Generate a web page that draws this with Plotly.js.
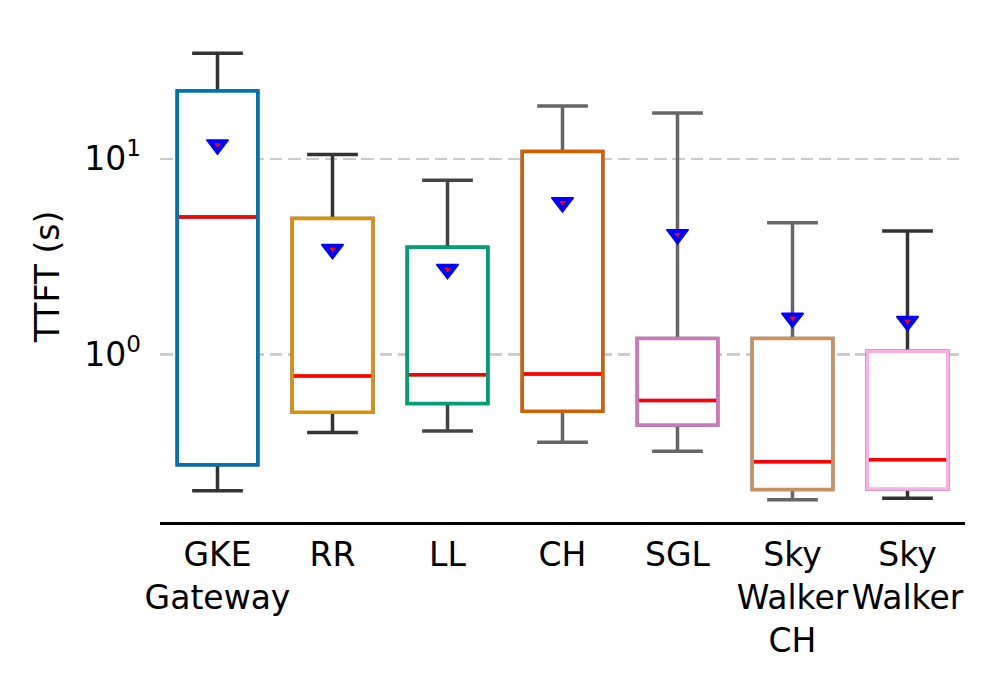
<!DOCTYPE html>
<html>
<head>
<meta charset="utf-8">
<script src="https://cdn.plot.ly/plotly-3.0.1.min.js"></script>
<style>html,body{margin:0;padding:0;background:#fff;}#chart{width:997px;height:681px;}</style>
</head>
<body>
<div id="chart"></div>
<script>
// ---- data ----
const categories = ["GKE<br>Gateway", "RR", "LL", "CH", "SGL", "Sky<br>Walker<br>CH", "Sky<br>Walker"];
const lowerWhisker = [0.202, 0.401, 0.408, 0.357, 0.321, 0.182, 0.185];
const q1Values     = [0.274, 0.508, 0.564, 0.515, 0.438, 0.205, 0.206];
const medianValues = [5.04, 0.779, 0.789, 0.798, 0.584, 0.284, 0.291];
const q3Values     = [22.2, 4.96, 3.53, 10.9, 1.21, 1.21, 1.04];
const upperWhisker = [34.5, 10.5, 7.76, 18.6, 17.1, 4.72, 4.28];
const meanValues   = [11.8, 3.45, 2.73, 5.98, 4.11, 1.54, 1.48];
const yTickVals  = [1, 10];
const yTickText  = ["10<sup>0</sup>", "10<sup>1</sup>"];

// ---- styles ----
const boxColors = ["#0173b2", "#de8f05", "#029e73", "#d55e00", "#cc78bc", "#ca9161", "#fbafe4"];
const whiskerColors = ["#333333", "#333333", "#444444", "#666666", "#666666", "#666666", "#333333"];
const BOX_W = 0.7;
const LW = 3.5;

const positions = categories.map((_, i) => i);
const traces = [];

// whiskers (drawn as full boxes underneath, the coloured boxes cover their bodies)
categories.forEach((c, i) => {
  traces.push({
    type: "box", x: [i],
    q1: [q1Values[i]], median: [medianValues[i]], q3: [q3Values[i]],
    lowerfence: [lowerWhisker[i]], upperfence: [upperWhisker[i]],
    width: BOX_W, whiskerwidth: 0.63,
    line: {color: whiskerColors[i], width: LW},
    fillcolor: "#ffffff", boxpoints: false, hoverinfo: "skip", showlegend: false
  });
});
// coloured boxes
categories.forEach((c, i) => {
  traces.push({
    type: "box", x: [i],
    q1: [q1Values[i]], median: [medianValues[i]], q3: [q3Values[i]],
    lowerfence: [q1Values[i]], upperfence: [q3Values[i]],
    width: BOX_W, whiskerwidth: 0,
    line: {color: boxColors[i], width: LW},
    fillcolor: "#ffffff", boxpoints: false, hoverinfo: "skip", showlegend: false
  });
});
// red median lines
categories.forEach((c, i) => {
  traces.push({
    type: "scatter", mode: "lines",
    x: [i - BOX_W / 2 + 0.014, i + BOX_W / 2 - 0.014],
    y: [medianValues[i], medianValues[i]],
    line: {color: "#ff0000", width: LW},
    hoverinfo: "skip", showlegend: false
  });
});
// mean markers
traces.push({
  type: "scatter", mode: "markers", x: positions, y: meanValues,
  marker: {symbol: "triangle-down", size: 19, color: "#0000ff", line: {color: "#0000ff", width: 1.5}},
  hoverinfo: "skip", showlegend: false
});
traces.push({
  type: "scatter", mode: "markers", x: positions, y: meanValues,
  marker: {symbol: "triangle-down", size: 6, color: "#ff0000", line: {width: 0}},
  hoverinfo: "skip", showlegend: false
});

const FONT = "DejaVu Sans, sans-serif";
const layout = {
  width: 997, height: 681,
  margin: {l: 160, r: 32, t: 31, b: 159},
  paper_bgcolor: "#ffffff", plot_bgcolor: "#ffffff",
  font: {family: FONT, size: 33, color: "#000000"},
  showlegend: false,
  boxmode: "overlay",
  xaxis: {
    range: [-0.5, 6.5],
    tickvals: positions, ticktext: categories,
    showgrid: false, zeroline: false,
    showline: true, linecolor: "#000000", linewidth: 2.8,
    ticks: "", ticklen: 0,
    ticklabelstandoff: 2,
    tickfont: {family: FONT, size: 33, color: "#000000"}
  },
  yaxis: {
    type: "log",
    range: [-0.854, 1.652],
    tickvals: yTickVals, ticktext: yTickText,
    showgrid: true, gridcolor: "#cccccc", gridwidth: 2.5, griddash: "12.5px,5.8px",
    zeroline: false, showline: false, ticks: "",
    ticklabelstandoff: 18,
    tickfont: {family: FONT, size: 33, color: "#000000"},
    title: {text: "TTFT (s)", font: {family: FONT, size: 33, color: "#000000"}, standoff: 14}
  }
};

Plotly.newPlot("chart", traces, layout, {displayModeBar: false, staticPlot: true});
</script>
</body>
</html>
